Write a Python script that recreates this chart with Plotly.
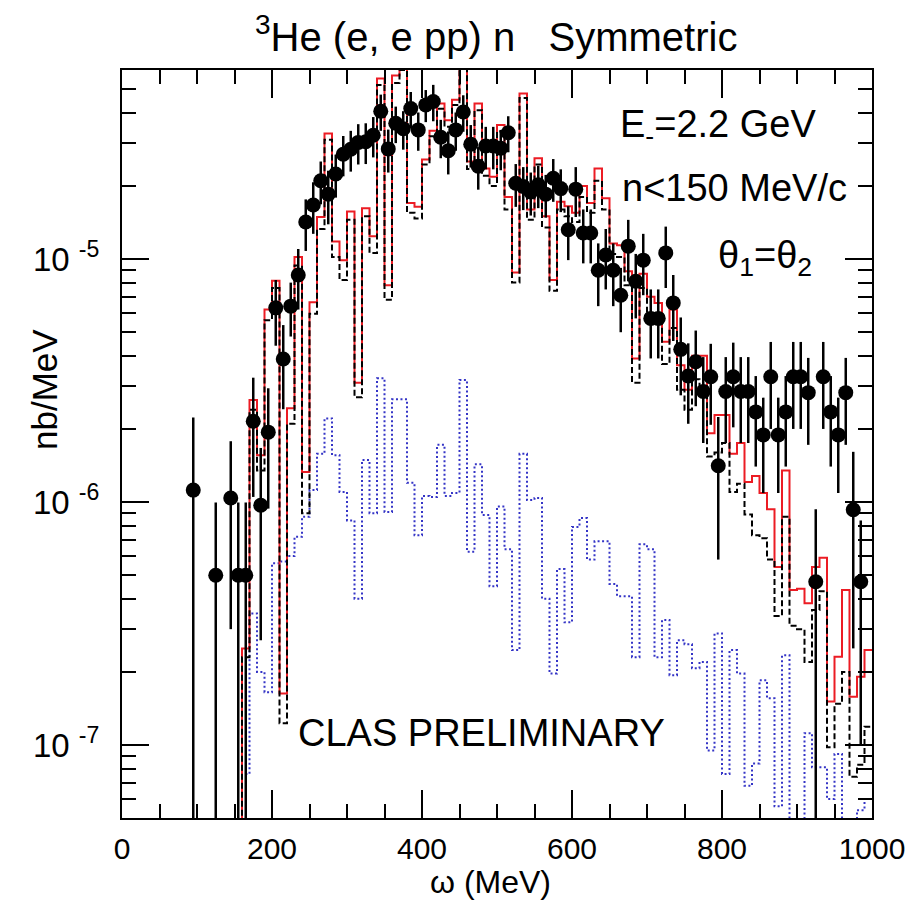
import plotly.graph_objects as go

# ---------------- data ----------------
BIN_WIDTH = 10          # MeV
HIST_START = 160        # lower edge of the first filled histogram bin (MeV)

# measured points: bin centres (MeV), cross section (nb/MeV), statistical error
omega_pts = [95, 125, 145, 155, 165,
             175, 185, 195, 205, 215, 225, 235, 245, 255, 265,
             275, 285, 295, 305, 315, 325, 335, 345, 355, 365,
             375, 385, 395, 405, 415, 425, 435, 445, 455, 465,
             475, 485, 495, 505, 515, 525, 535, 545, 555, 565,
             575, 585, 595, 605, 615, 625, 635, 645, 655, 665,
             675, 685, 695, 705, 715, 725, 735, 745, 755, 765,
             775, 785, 795, 805, 815, 825, 835, 845, 855, 865,
             875, 885, 895, 905, 915, 925, 935, 945, 955, 965,
             975, 985]
xsec_pts = [1.12e-6, 5.0e-7, 1.04e-6, 5.0e-7, 5.0e-7,
            2.15e-6, 9.7e-7, 1.94e-6, 6.3e-6, 3.88e-6, 6.4e-6, 8.6e-6, 1.42e-5, 1.67e-5, 2.10e-5,
            1.85e-5, 2.24e-5, 2.70e-5, 2.83e-5, 3.02e-5, 3.04e-5, 3.23e-5, 4.06e-5, 2.84e-5, 3.62e-5,
            3.44e-5, 4.16e-5, 3.40e-5, 4.31e-5, 4.45e-5, 3.17e-5, 2.79e-5, 3.40e-5, 4.03e-5, 2.97e-5,
            2.41e-5, 2.92e-5, 2.92e-5, 2.86e-5, 3.31e-5, 2.05e-5, 1.99e-5, 1.89e-5, 2.02e-5, 1.85e-5,
            2.15e-5, 1.95e-5, 1.32e-5, 1.94e-5, 1.28e-5, 1.28e-5, 9.0e-6, 1.04e-5, 9.0e-6, 7.1e-6,
            1.13e-5, 8.1e-6, 9.9e-6, 5.7e-6, 5.7e-6, 1.06e-5, 6.6e-6, 4.25e-6, 3.30e-6, 3.78e-6,
            2.85e-6, 3.28e-6, 1.41e-6, 2.85e-6, 3.28e-6, 2.85e-6, 2.85e-6, 2.35e-6, 1.89e-6, 3.28e-6,
            1.89e-6, 2.35e-6, 3.28e-6, 3.28e-6, 2.82e-6, 4.7e-7, 3.28e-6, 2.35e-6, 1.89e-6, 2.82e-6,
            9.3e-7, 4.7e-7]
err_pts = [1.11e-6, 4.95e-7, 7.4e-7, 4.95e-7, 4.95e-7,
           1.1e-6, 7.0e-7, 1.0e-6, 1.9e-6, 1.47e-6, 1.6e-6, 2.4e-6, 3.4e-6, 4.0e-6, 4.2e-6,
           4.6e-6, 4.5e-6, 5.1e-6, 5.4e-6, 5.7e-6, 5.8e-6, 6.1e-6, 6.9e-6, 5.7e-6, 6.2e-6,
           6.2e-6, 7.1e-6, 6.1e-6, 6.5e-6, 7.6e-6, 5.7e-6, 5.6e-6, 6.1e-6, 6.9e-6, 5.9e-6,
           4.8e-6, 5.8e-6, 5.8e-6, 5.4e-6, 5.6e-6, 4.1e-6, 4.0e-6, 3.8e-6, 4.0e-6, 3.7e-6,
           4.3e-6, 3.9e-6, 3.3e-6, 4.5e-6, 3.2e-6, 3.2e-6, 2.6e-6, 2.9e-6, 2.6e-6, 2.1e-6,
           3.2e-6, 2.4e-6, 2.8e-6, 1.8e-6, 1.8e-6, 3.0e-6, 2.0e-6, 1.5e-6, 1.2e-6, 1.3e-6,
           1.1e-6, 1.2e-6, 8.3e-7, 1.1e-6, 1.25e-6, 1.1e-6, 1.1e-6, 9.5e-7, 8.0e-7, 1.28e-6,
           8.0e-7, 9.5e-7, 1.28e-6, 1.28e-6, 1.1e-6, 4.65e-7, 1.28e-6, 9.5e-7, 8.0e-7, 1.1e-6,
           6.8e-7, 3.7e-7]

# simulated spectra, one value per 10 MeV bin from 160 to 1000 MeV
calc_full = [2.5e-7, 2.63e-6, 1.56e-6, 6.2e-6, 8.15e-6, 1.63e-7, 2.43e-6, 1.02e-5, 1.33e-6, 6.64e-6,
             1.49e-5, 3.29e-5, 1.18e-5, 9.9e-6, 1.57e-5, 3.1e-6, 1.62e-5, 1.24e-5, 5.54e-5, 7.8e-6,
             5.7e-5, 7.0e-5, 1.70e-5, 1.64e-5, 2.57e-5, 3.37e-5, 4.37e-5, 3.73e-5, 4.52e-5, 7.0e-5,
             2.52e-5, 4.37e-5, 2.36e-5, 2.18e-5, 3.56e-5, 1.8e-5, 8.8e-6, 4.8e-5, 1.6e-5, 2.6e-5,
             1.5e-5, 8.2e-6, 1.72e-5, 1.65e-5, 1.55e-5, 2.0e-5, 1.7e-5, 2.36e-5, 1.78e-5, 1.16e-5,
             1.14e-5, 8.9e-6, 3.9e-6, 8.7e-6, 7.0e-6, 6.6e-6, 4.57e-6, 6.2e-6, 3.66e-6, 2.9e-6,
             4.0e-6, 4.0e-6, 1.92e-6, 2.28e-6, 2.28e-6, 1.58e-6, 1.75e-6, 1.21e-6, 1.28e-6, 1.09e-6,
             9.35e-7, 5.4e-7, 1.35e-6, 4.35e-7, 4.4e-7, 3.83e-7, 5.4e-7, 5.9e-7, 1.51e-7, 2.31e-7,
             4.35e-7, 1.58e-7, 1.91e-7, 2.46e-7]
calc_dashed = [2.3e-7, 2.4e-6, 1.35e-6, 5.6e-6, 7.6e-6, 1.23e-7, 2.1e-6, 9.4e-6, 9.0e-7, 5.95e-6,
               1.33e-5, 3.1e-5, 1.02e-5, 8.2e-6, 1.45e-5, 2.7e-6, 1.5e-5, 1.06e-5, 5.2e-5, 6.8e-6,
               5.3e-5, 6.0e-5, 1.55e-5, 1.47e-5, 2.45e-5, 3.2e-5, 4.15e-5, 3.5e-5, 4.3e-5, 6.5e-5,
               2.35e-5, 4.1e-5, 2.2e-5, 2.0e-5, 3.35e-5, 1.6e-5, 8.0e-6, 4.6e-5, 1.45e-5, 2.45e-5,
               1.35e-5, 7.4e-6, 1.6e-5, 1.5e-5, 1.42e-5, 1.8e-5, 1.55e-5, 2.1e-5, 1.6e-5, 1.05e-5,
               1.02e-5, 7.8e-6, 3.1e-6, 7.6e-6, 6.0e-6, 5.5e-6, 3.7e-6, 5.2e-6, 2.9e-6, 2.4e-6,
               3.2e-6, 3.0e-6, 1.54e-6, 1.6e-6, 1.75e-6, 1.10e-6, 1.19e-6, 8.9e-7, 7.3e-7, 7.1e-7,
               5.8e-7, 3.4e-7, 8.7e-7, 3.1e-7, 3.0e-7, 2.2e-7, 3.6e-7, 4.3e-7, 9.8e-8, 1.48e-7,
               2.0e-7, 7.4e-8, 8.3e-8, 1.19e-7]
calc_dotted = [7.6e-8, 3.48e-7, 2.0e-7, 1.65e-7, 5.6e-7, 5.7e-7, 6.0e-7, 7.2e-7, 8.7e-7, 1.12e-6,
               1.58e-6, 2.21e-6, 1.56e-6, 1.10e-6, 8.4e-7, 4.0e-7, 1.49e-6, 9.0e-7, 3.23e-6, 9.1e-7,
               2.65e-6, 2.65e-6, 1.20e-6, 7.3e-7, 1.06e-6, 1.05e-6, 1.72e-6, 1.06e-6, 1.09e-6, 3.18e-6,
               6.25e-7, 1.43e-6, 8.85e-7, 4.5e-7, 9.6e-7, 6.4e-7, 2.46e-7, 1.58e-6, 1.02e-6, 1.04e-6,
               4.0e-7, 1.97e-7, 5.3e-7, 3.2e-7, 7.9e-7, 8.6e-7, 5.8e-7, 6.9e-7, 6.9e-7, 4.6e-7,
               4.1e-7, 4.1e-7, 2.3e-7, 6.7e-7, 6.4e-7, 2.3e-7, 3.27e-7, 1.94e-7, 2.7e-7, 2.6e-7,
               2.07e-7, 2.2e-7, 9.5e-8, 2.88e-7, 7.6e-8, 2.46e-7, 1.97e-7, 6.8e-8, 8.4e-8, 1.85e-7,
               1.56e-7, 5.6e-8, 2.34e-7, 4.0e-8, 4.0e-8, 1.12e-7, 8.1e-8, 8.1e-8, 6.0e-8, 9.2e-8,
               4.0e-8, 4.0e-8, 5.4e-8, 6.0e-8]

x_ticks = [0, 200, 400, 600, 800, 1000]
y_ticks = [1e-7, 1e-6, 1e-5]
y_ticktext = ["10 <sup>-7</sup>", "10 <sup>-6</sup>", "10 <sup>-5</sup>"]

# ---------------- helpers ----------------
FONT = "Liberation Sans, Arial, Helvetica, sans-serif"
W, H = 920, 903
L, R, T, B = 122, 48, 70, 85


def px_to_paper(px, py):
    return (px - L) / (W - L - R), (H - B - py) / (H - T - B)


def step_trace(values, **line):
    """Histogram outline drawn as a step line rising from below the axis."""
    n = len(values)
    edges = [HIST_START + i * BIN_WIDTH for i in range(n + 1)]
    xs = [HIST_START - BIN_WIDTH] + edges
    ys = [1e-10] + list(values) + [values[-1]]
    return go.Scatter(x=xs, y=ys, mode="lines", line_shape="hv",
                      line=line, hoverinfo="skip", showlegend=False)


minor_y = [m * 10.0 ** e for e in range(-8, -3) for m in range(2, 10)]

fig = go.Figure()
fig.add_trace(step_trace(calc_dotted, color="#3434c6", width=2, dash="2px,2.5px"))
fig.add_trace(step_trace(calc_full, color="#ec1c24", width=2))
fig.add_trace(step_trace(calc_dashed, color="black", width=2, dash="6px,3px"))
fig.add_trace(go.Scatter(
    x=omega_pts, y=xsec_pts, mode="markers",
    marker=dict(color="black", size=15, symbol="circle"),
    error_y=dict(type="data", array=err_pts, color="black", thickness=2.5, width=0),
    showlegend=False))

axis_common = dict(showline=True, linecolor="black", linewidth=2, mirror="ticks",
                   ticks="inside", tickcolor="black", tickwidth=2,
                   showgrid=False, zeroline=False)

fig.update_xaxes(range=[0, 1000], tickmode="array", tickvals=x_ticks, ticklen=28,
                 ticklabelstandoff=3,
                 tickfont=dict(family=FONT, size=30, color="black"),
                 minor=dict(dtick=50, ticks="inside", ticklen=14, tickwidth=2,
                            tickcolor="black", showgrid=False),
                 **axis_common)
fig.update_yaxes(type="log", range=[-7.300, -4.222], tickmode="array",
                 tickvals=y_ticks, ticktext=y_ticktext, ticklen=27,
                 ticklabelstandoff=14,
                 tickfont=dict(family=FONT, size=33, color="black"),
                 minor=dict(tickmode="array", tickvals=minor_y, ticks="inside",
                            ticklen=14, tickwidth=2, tickcolor="black", showgrid=False),
                 **axis_common)

annotations = []


def add_text(text, px, py, size, xanchor="left", textangle=0):
    ax, ay = px_to_paper(px, py)
    annotations.append(dict(text=text, x=ax, y=ay, xref="paper", yref="paper",
                            xanchor=xanchor, yanchor="middle", showarrow=False,
                            textangle=textangle,
                            font=dict(family=FONT, size=size, color="black")))


add_text("E<sub>-</sub>=2.2 GeV", 618, 127, 38)
add_text("n&lt;150 MeV/c", 620, 188, 38)
add_text("\u03b8<sub>1</sub>=\u03b8<sub>2</sub>", 716, 258, 38)
add_text("CLAS PRELIMINARY", 296, 733, 38)
add_text("<sup>3</sup>He (e, e pp) n\u00a0\u00a0\u00a0Symmetric", 496, 34, 40, xanchor="center")
add_text("\u03c9 (MeV)", 490, 882, 32, xanchor="center")
add_text("nb/MeV", 44, 390, 35, xanchor="center", textangle=-90)

fig.update_layout(width=W, height=H, margin=dict(l=L, r=R, t=T, b=B),
                  paper_bgcolor="white", plot_bgcolor="white",
                  annotations=annotations, showlegend=False)

fig.write_html("out.html")
